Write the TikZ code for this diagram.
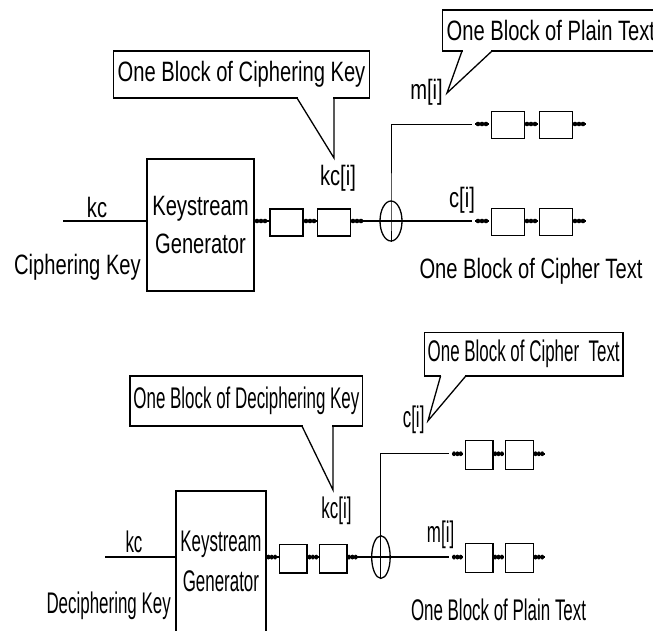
\documentclass[tikz,border=0pt]{standalone}
\usepackage{fontspec}
\setmainfont{Liberation Sans}[FakeStretch=0.72]
\usetikzlibrary{calc,shapes.geometric}

\tikzset{
  every node/.style={font=\fontsize{28}{38}\selectfont, inner sep=0pt},
  wire/.style={line width=1.6pt},
  tapwire/.style={line width=1pt},
  reg/.style={draw, fill=white, line width=1.3pt, minimum width=33, minimum height=27},
  genbox/.style={draw, fill=white, line width=1.3pt, minimum width=107, minimum height=132, align=center},
  xorring/.style={draw, ellipse, line width=1.3pt, minimum width=22, minimum height=40},
  tagbox/.style={draw, fill=white, line width=1.3pt, inner xsep=4pt},
}

% three bits on a short piece of wire
\def\bits(#1,#2){\draw[wire] (#1,#2) -- ++(14,0);
  \foreach \d in {3,7,11} \fill (#1+\d,#2) circle (2.3);}

% #1 key callout, #2 key name, #3 tapped text, #4 its callout, #5 result, #6 result caption
\newcommand\cipherhalf[6]{%
  \node[genbox] (gen) at (200.5,225) {Keystream\\Generator};
  \node[xorring] (xor) at (391,221) {};
  \coordinate (kin) at (63,221);
  \coordinate (cout) at (472,221);
  \coordinate (tap) at (472,124);
  \draw[wire] (kin) -- (kin -| gen.west);
  \draw[wire] (gen.east |- xor) -- (cout);
  \draw[tapwire] (xor.south) -- (xor.center) |- (tap);
  %% key stream register chain
  \bits(254,221) \bits(303,221) \bits(350,221)
  \node[reg] (k1) at (286.5,222.5) {};
  \node[reg] (k2) at (334,222.5) {};
  %% output rows
  \foreach \y/\r in {124/p,221/q} {
    \bits(475,\y) \bits(524,\y) \bits(572,\y)
    \node[reg] (\r1) at (508,\y+1) {};
    \node[reg] (\r2) at (556,\y+1) {};
  }
  %% labels
  \node (kc) at (97,207) {kc};
  \node[anchor=east] (key) at (141,267) {#2};
  \node (ki) at (338,178) {kc[i]};
  \node[anchor=east] (tin) at (443,92) {#3};
  \node (tout) at (462,200) {#5};
  \node (cap) at (531,271) {#6};
  %% callouts
  \node[tagbox, anchor=east, minimum height=47] (keytag) at (370,74.5) {#1};
  \coordinate (keytip) at (334,158);
  \fill[white] (298,96.3) rectangle (333.3,99.7);
  \draw[line width=1.3pt] (297,98) -- (keytip) -- (334,98);
  \node[tagbox, anchor=west, minimum height=41] (texttag) at (442,30.5) {#4};
  \coordinate (texttip) at (447,93);
  \fill[white] (462.6,49.3) rectangle (491.4,52.7);
  \draw[line width=1.3pt] (462,51) -- (texttip) -- (492,51);
}

\begin{document}
\begin{tikzpicture}[x=1pt, y=-1pt]
  \useasboundingbox (0,0) rectangle (653,630);
  %%%%% CIPHERING %%%%%
  \begin{scope}[name prefix=enc-]
    \cipherhalf{One Block of Ciphering Key}{Ciphering Key}{m[i]}%
      {One Block of Plain Text}{c[i]}{One Block of Cipher Text}
  \end{scope}
  %%%%% DECIPHERING %%%%%
  \begin{scope}[shift={(52.5,321.7)}, xscale=0.84, yscale=1.065, transform shape, name prefix=dec-]
    \cipherhalf{One Block of Deciphering Key}{Deciphering Key}{c[i]}%
      {One Block of Cipher~ Text}{m[i]}{One Block of Plain Text}
  \end{scope}
\end{tikzpicture}
\end{document}
